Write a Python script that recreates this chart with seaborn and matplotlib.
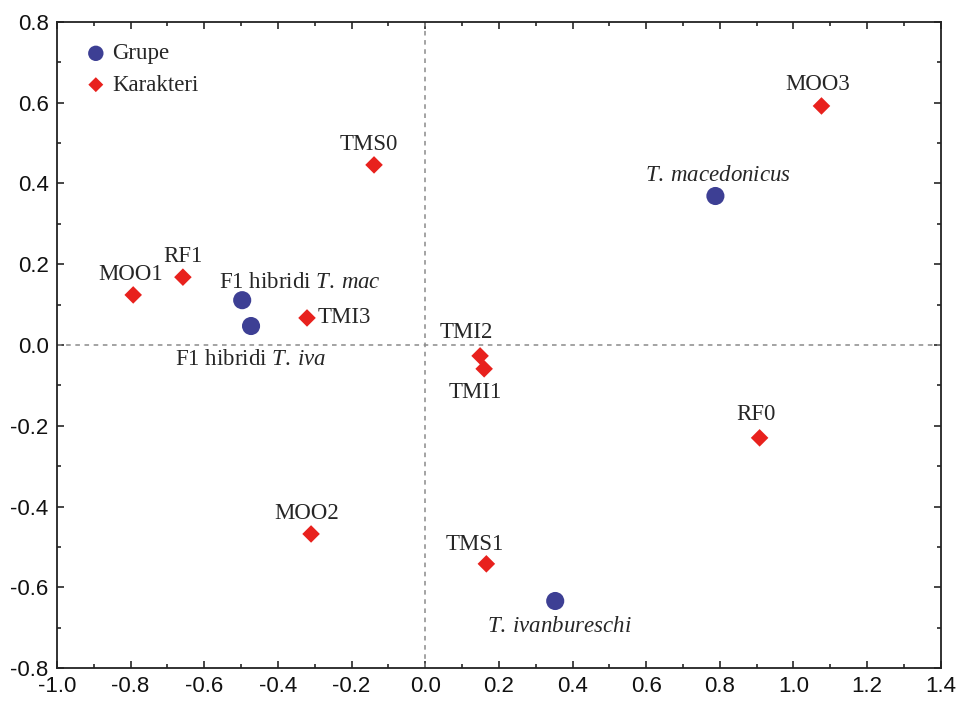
import matplotlib
matplotlib.use("Agg")
import matplotlib.pyplot as plt
import seaborn as sns
import pandas as pd
from matplotlib.ticker import MultipleLocator, FormatStrFormatter

# grupe (plavi krugovi)
grupe = ["F1 hibridi $\\it{T.\\:mac}$", "F1 hibridi $\\it{T.\\:iva}$",
         "$\\it{T.\\:macedonicus}$", "$\\it{T.\\:ivanbureschi}$"]
grupe_x = [-0.497, -0.473, 0.788, 0.353]
grupe_y = [0.111, 0.047, 0.369, -0.634]

# karakteri (crveni rombovi)
karakteri = ["MOO3", "TMS0", "RF1", "MOO1", "TMI3", "TMI2", "TMI1", "RF0", "MOO2", "TMS1"]
kar_x = [1.076, -0.139, -0.658, -0.793, -0.321, 0.149, 0.160, 0.908, -0.310, 0.166]
kar_y = [0.592, 0.446, 0.168, 0.124, 0.067, -0.027, -0.059, -0.230, -0.468, -0.542]

df_g = pd.DataFrame({"x": grupe_x, "y": grupe_y, "ime": grupe})
df_k = pd.DataFrame({"x": kar_x, "y": kar_y, "ime": karakteri})

sns.set_style("ticks")
plt.rcParams["font.family"] = ["Liberation Sans", "DejaVu Sans"]
plt.rcParams["mathtext.fontset"] = "custom"
plt.rcParams["mathtext.rm"] = "Liberation Serif"
plt.rcParams["mathtext.it"] = "Liberation Serif:italic"

fig = plt.figure(figsize=(9.59, 7.02), dpi=100)
ax = fig.add_axes([0.0594, 0.0484, 0.9216, 0.9203])

ax.axhline(0, color="#8a8a8a", linestyle=(0, (3, 3)), linewidth=1.1, zorder=1)
ax.axvline(0, color="#8a8a8a", linestyle=(0, (3, 3)), linewidth=1.1, zorder=1)

sns.scatterplot(data=df_g, x="x", y="y", ax=ax, color="#3d3f94", marker="o",
                s=170, edgecolor="none", label="Grupe", zorder=3)
sns.scatterplot(data=df_k, x="x", y="y", ax=ax, color="#e8211d", marker="D",
                s=80, edgecolor="none", label="Karakteri", zorder=3)

# pomaci natpisa u pikselima
pomak_g = [(-23, 18, "left"), (-76, -33, "left"), (3, 21, "center"), (4, -26, "center")]
pomak_k = [(-4, 21), (-5, 20), (0, 21), (-3, 20), (11, 0), (-14, 23), (-9, -24),
           (-4, 23), (-4, 20), (-12, 19)]

fs = 16.5
for (xx, yy, t), (dx, dy, ha) in zip(zip(grupe_x, grupe_y, grupe), pomak_g):
    ax.annotate(t, (xx, yy), xytext=(dx, dy), textcoords="offset pixels",
                ha=ha, va="center", fontsize=fs, family="Liberation Serif")
for (xx, yy, t), (dx, dy) in zip(zip(kar_x, kar_y, karakteri), pomak_k):
    ha = "left" if t == "TMI3" else "center"
    ax.annotate(t, (xx, yy), xytext=(dx, dy), textcoords="offset pixels",
                ha=ha, va="center", fontsize=fs, family="Liberation Serif")

ax.set_xlim(-1.0, 1.4)
ax.set_ylim(-0.8, 0.8)
ax.xaxis.set_major_locator(MultipleLocator(0.2))
ax.xaxis.set_minor_locator(MultipleLocator(0.1))
ax.yaxis.set_major_locator(MultipleLocator(0.2))
ax.yaxis.set_minor_locator(MultipleLocator(0.1))
ax.xaxis.set_major_formatter(FormatStrFormatter("%.1f"))
ax.yaxis.set_major_formatter(FormatStrFormatter("%.1f"))
ax.tick_params(which="both", direction="in", top=True, right=True, width=1.2,
               labelsize=16, pad=6, labelcolor="#111111")
ax.tick_params(which="major", length=5)
ax.tick_params(which="minor", length=3)
for s in ax.spines.values():
    s.set_linewidth(1.3)
    s.set_color("#222222")
ax.set_xlabel("")
ax.set_ylabel("")

leg = ax.legend(loc="upper left", frameon=False, handlelength=1.0, handletextpad=0.2,
                borderaxespad=0, borderpad=0, labelspacing=0.45, markerscale=0.85,
                prop={"family": "Liberation Serif", "size": fs},
                bbox_to_anchor=(0.031, 0.967))

fig.savefig("out.png", dpi=100)
